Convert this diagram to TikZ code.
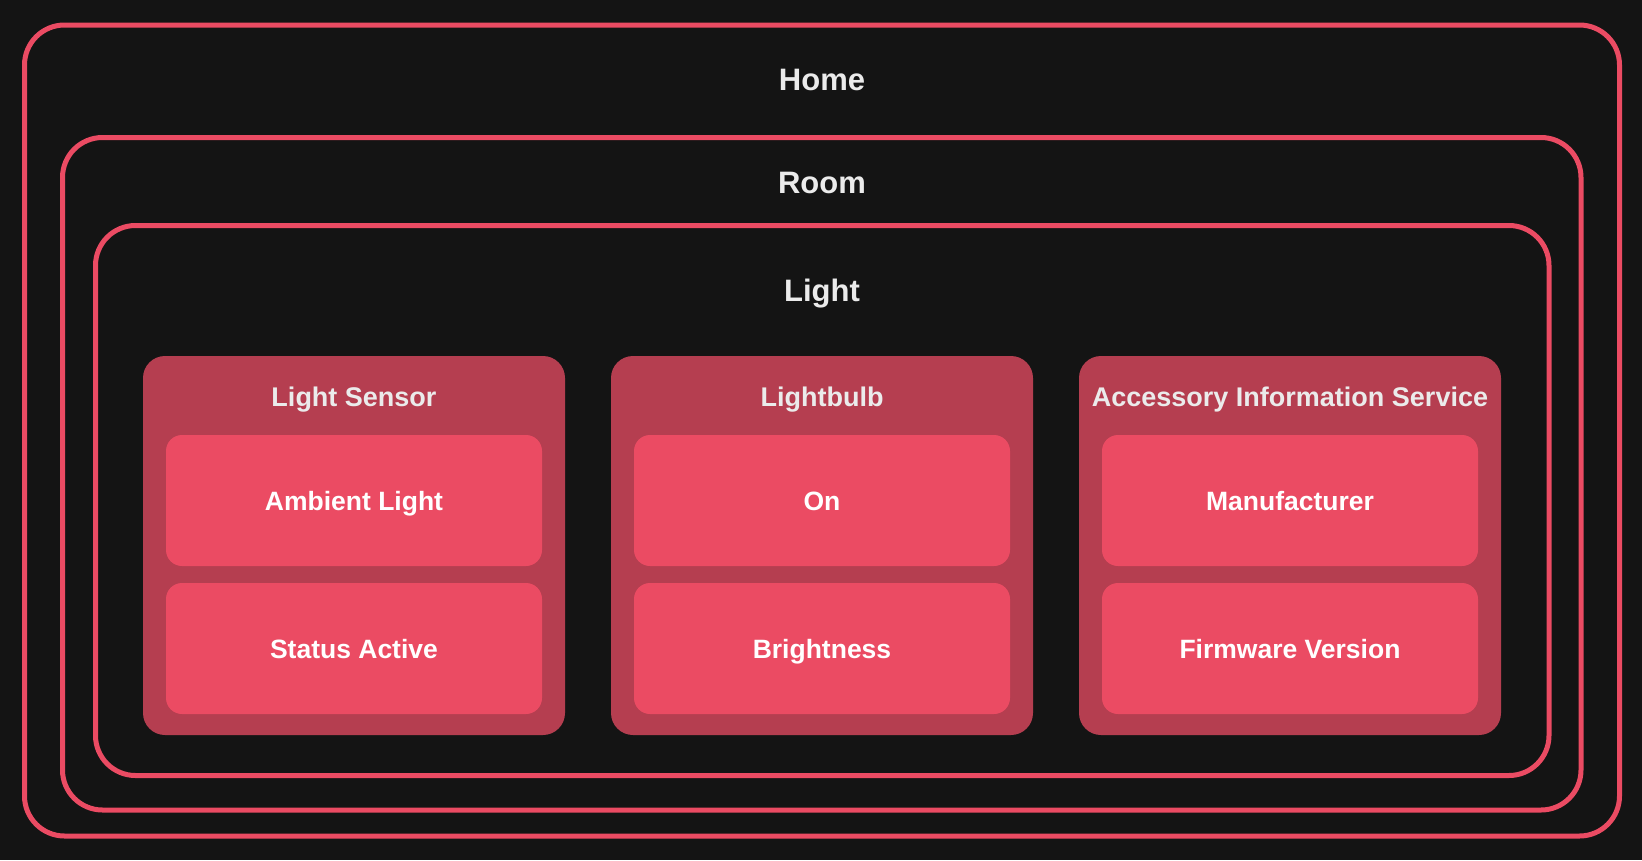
\documentclass[tikz,border=0pt]{standalone}
\usepackage{fontspec}
\setmainfont{Liberation Sans}
\usepackage{tikz}
\definecolor{bgdark}{HTML}{141414}
\definecolor{framered}{HTML}{EB4B63}
\definecolor{servicered}{HTML}{B53E50}
\definecolor{titlegray}{HTML}{EBEBEB}

\begin{document}
\begin{tikzpicture}[x=1pt,y=-1pt,
  frame/.style={draw=framered,line width=5pt,rounded corners=40pt,inner sep=0pt},
  service/.style={fill=servicered,rounded corners=22pt,inner sep=0pt,
    minimum width=422pt,minimum height=379pt},
  charbox/.style={fill=framered,rounded corners=16pt,inner sep=0pt,
    minimum width=376pt,minimum height=131pt},
  bigtitle/.style={text=titlegray,anchor=base,font=\bfseries\fontsize{31}{37}\selectfont},
  srvtitle/.style={text=titlegray,anchor=base,font=\bfseries\fontsize{27}{32}\selectfont},
  charlabel/.style={text=white,anchor=base,font=\bfseries\fontsize{26.5}{32}\selectfont}]
\fill[bgdark] (0,0) rectangle (1642,860);
% nested frames
\node[frame,minimum width=1595pt,minimum height=811pt] (home) at (822,430.5) {};
\node[frame,minimum width=1518.5pt,minimum height=672.5pt] (room) at (821.75,473.75) {};
\node[frame,minimum width=1453.5pt,minimum height=550pt] (light) at (822.25,500.5) {};
\node[bigtitle] (hometitle) at (822,90) {Home};
\node[bigtitle] (roomtitle) at (822,193.5) {Room};
\node[bigtitle] (lighttitle) at (822,301.5) {Light};
% services
\node[service] (sensor) at (354,545.5) {};
\node[service] (bulb) at (822,545.5) {};
\node[service] (info) at (1290,545.5) {};
\node[srvtitle] (sensortitle) at (354,406.5) {Light Sensor};
\node[srvtitle] (bulbtitle) at (822,406.5) {Lightbulb};
\node[srvtitle] (infotitle) at (1290,406.5) {Accessory Information Service};
% characteristics
\node[charbox] (ambient) at (354,500.5) {};
\node[charbox] (status) at (354,648.5) {};
\node[charbox] (on) at (822,500.5) {};
\node[charbox] (bright) at (822,648.5) {};
\node[charbox] (maker) at (1290,500.5) {};
\node[charbox] (firmware) at (1290,648.5) {};
\node[charlabel] (ambientlabel) at (354,510.5) {Ambient Light};
\node[charlabel] (statuslabel) at (354,658.5) {Status Active};
\node[charlabel] (onlabel) at (822,510.5) {On};
\node[charlabel] (brightlabel) at (822,658.5) {Brightness};
\node[charlabel] (makerlabel) at (1290,510.5) {Manufacturer};
\node[charlabel] (firmwarelabel) at (1290,658.5) {Firmware Version};
\end{tikzpicture}
\end{document}
